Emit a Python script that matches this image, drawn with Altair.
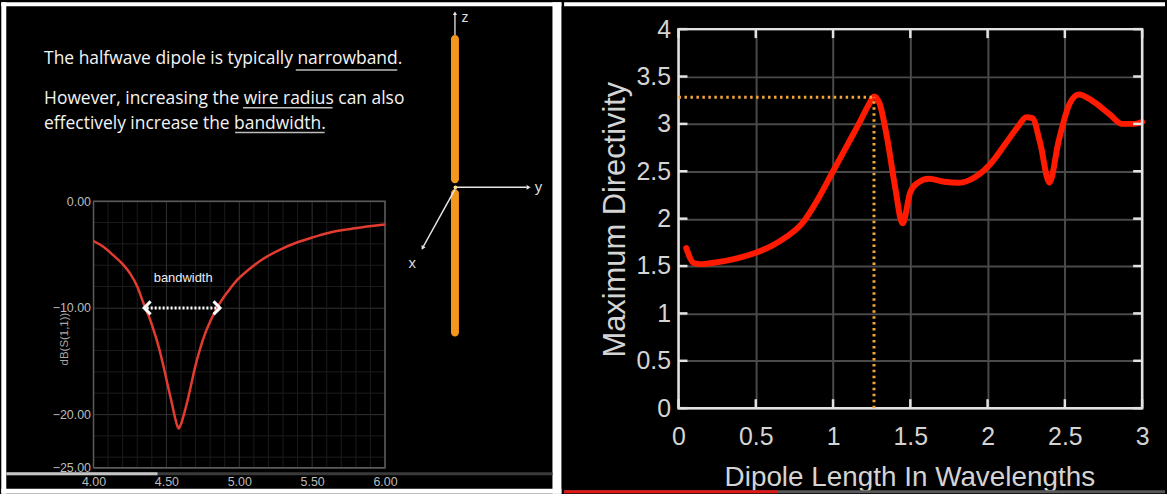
import altair as alt
import pandas as pd

# ---------------- data ----------------
s11_freq = [4.00, 4.07, 4.14, 4.20, 4.254, 4.30, 4.345, 4.38, 4.413, 4.45, 4.481, 4.51, 4.538,
            4.565, 4.584, 4.60, 4.62, 4.64, 4.67, 4.697, 4.73, 4.765, 4.81, 4.856, 4.92, 4.98,
            5.07, 5.16, 5.27, 5.39, 5.50, 5.617, 5.73, 5.845, 6.00]
s11_db = [-3.73, -4.3, -5.13, -5.9, -6.84, -8.0, -9.64, -10.8, -12.1, -13.8, -15.55, -17.3, -18.97,
          -20.6, -21.3, -20.9, -20.0, -18.97, -17.2, -15.55, -13.9, -12.44, -11.0, -9.8, -8.5, -7.46,
          -6.35, -5.44, -4.6, -3.89, -3.4, -2.95, -2.66, -2.43, -2.18]
bw_lo, bw_hi, bw_level = 4.365, 4.85, -10.0
bw_label_f, bw_label_db = 4.615, -7.2

s11_x_ticks = [4.0, 4.5, 5.0, 5.5, 6.0]
s11_y_ticks = [0, -10, -20, -25]
s11_x_minor = [4.1, 4.2, 4.3, 4.4, 4.6, 4.7, 4.8, 4.9, 5.1, 5.2, 5.3, 5.4, 5.6, 5.7, 5.8, 5.9]
s11_y_minor = [-2, -4, -6, -8, -12, -14, -16, -18, -22, -24]

dir_len = [0.05, 0.10, 0.15, 0.25, 0.35, 0.50, 0.60, 0.70, 0.80, 0.90, 1.00, 1.10, 1.17, 1.23, 1.265,
           1.30, 1.35, 1.40, 1.45, 1.50, 1.55, 1.62, 1.72, 1.82, 1.92, 2.02, 2.12, 2.20, 2.25, 2.29,
           2.34, 2.40, 2.46, 2.53, 2.59, 2.68, 2.79, 2.87, 2.95, 3.00]
dir_val = [1.69, 1.53, 1.52, 1.54, 1.57, 1.64, 1.71, 1.81, 1.95, 2.20, 2.50, 2.80, 3.01, 3.20, 3.29,
           3.22, 2.85, 2.35, 1.95, 2.28, 2.38, 2.42, 2.39, 2.38, 2.44, 2.58, 2.80, 2.98, 3.07, 3.06,
           2.80, 2.38, 2.82, 3.21, 3.31, 3.24, 3.10, 3.00, 3.00, 3.02]
peak_len, peak_val = 1.265, 3.28

dir_x_ticks = [0, 0.5, 1, 1.5, 2, 2.5, 3]
dir_y_ticks = [0, 0.5, 1, 1.5, 2, 2.5, 3, 3.5, 4]

slide_lines = ["The halfwave dipole is typically narrowband.",
               "However, increasing the wire radius can also",
               "effectively increase the bandwidth."]

# ---------------- layout helpers (page pixels -> view-relative pixels) ----------------
# Both views start at page y=27 so that the concat row lines them up; the S11 data
# occupies only the lower part of the left view (page y 200..468).
LX, LY, LW, LH = 92.7, 27.0, 293, 441
S11_TOP = 200.0 - LY                         # y-pixel of 0 dB inside the left view
RX, RY, RW, RH = 678.0, 27.0, 466, 381      # directivity plot area
one = pd.DataFrame({"k": [0]})


def d_rect(x1, x2, y1, y2, ox, oy, **kw):
    return alt.Chart(one).mark_rect(**kw).encode(
        x=alt.value(x1 - ox), x2=alt.value(x2 - ox), y=alt.value(y1 - oy), y2=alt.value(y2 - oy))


def d_rule(x1, y1, x2, y2, ox, oy, **kw):
    return alt.Chart(one).mark_rule(**kw).encode(
        x=alt.value(x1 - ox), x2=alt.value(x2 - ox), y=alt.value(y1 - oy), y2=alt.value(y2 - oy))


def d_text(t, x, y, ox, oy, **kw):
    return alt.Chart(one).mark_text(text=t, **kw).encode(x=alt.value(x - ox), y=alt.value(y - oy))


def d_point(x, y, ox, oy, **kw):
    return alt.Chart(one).mark_point(**kw).encode(x=alt.value(x - ox), y=alt.value(y - oy))


# ---------------- left panel ----------------
s11 = pd.DataFrame({"f": s11_freq, "db": s11_db})
xs = alt.Scale(domain=[4, 6], nice=False, zero=False)
ys = alt.Scale(domain=[-25, 0], nice=False, zero=False, range=[LH, S11_TOP])
lab_font = "Liberation Sans"

left_white = [
    d_rect(0, 5, 0, 494, LX, LY, color="white"),
    d_rect(0, 563, 0, 4, LX, LY, color="white"),
    d_rect(554, 563, 0, 494, LX, LY, color="white"),
    d_rect(0, 563, 489, 494, LX, LY, color="white"),
]

minor_x = alt.Chart(pd.DataFrame({"f": s11_x_minor})).mark_rule(color="#1c1c1c", strokeWidth=1).encode(
    x=alt.X("f:Q", scale=xs), y=alt.datum(0), y2=alt.datum(-25))
minor_y = alt.Chart(pd.DataFrame({"db": s11_y_minor})).mark_rule(color="#1c1c1c", strokeWidth=1).encode(
    y=alt.Y("db:Q", scale=ys))
major_x = alt.Chart(pd.DataFrame({"f": s11_x_ticks})).mark_rule(color="#333333", strokeWidth=1).encode(
    x=alt.X("f:Q", scale=xs), y=alt.datum(0), y2=alt.datum(-25))

left_frame = d_rect(0, LW, S11_TOP, LH, 0, 0, fillOpacity=0, stroke="#5c5c5c", strokeWidth=1.5)

s11_line = alt.Chart(s11).mark_line(color="#e23b30", strokeWidth=2.5, interpolate="monotone").encode(
    x=alt.X("f:Q", scale=xs, axis=alt.Axis(
        values=s11_x_ticks, format=".2f", grid=False,
        domain=False, ticks=False, labelColor="#bcbcbc", labelFont=lab_font, labelFontSize=12.5,
        labelPadding=8, labelFlush=False, labelOverlap=False, title=None)),
    y=alt.Y("db:Q", scale=ys, axis=alt.Axis(
        values=s11_y_ticks, format=".2f", grid=True, gridColor="#333333", gridWidth=1,
        domain=False, ticks=False, labelColor="#bcbcbc", labelFont=lab_font, labelFontSize=12.5,
        labelPadding=3, labelOverlap=False, title="dB(S(1,1))", titleColor="#a8a8a8",
        titleFont=lab_font, titleFontSize=11.5, titleFontWeight="normal", titleX=-29,
        titleY=338 - LY, titleAngle=270, titleAlign="center", titleBaseline="middle")),
)

bw_df = pd.DataFrame({"f": [bw_lo], "f2": [bw_hi], "db": [bw_level]})
bw_rule = alt.Chart(bw_df).mark_rule(color="white", strokeWidth=3, strokeDash=[2, 2]).encode(
    x="f:Q", x2="f2:Q", y="db:Q")
bw_left = alt.Chart(pd.DataFrame({"f": [bw_lo], "db": [bw_level]})).mark_point(
    shape="M 0.6 -1 L -0.4 0 L 0.6 1", filled=False, color="white", strokeWidth=3, size=170, opacity=1
).encode(x="f:Q", y="db:Q")
bw_right = alt.Chart(pd.DataFrame({"f": [bw_hi], "db": [bw_level]})).mark_point(
    shape="M -0.6 -1 L 0.4 0 L -0.6 1", filled=False, color="white", strokeWidth=3, size=170, opacity=1
).encode(x="f:Q", y="db:Q")
bw_text = alt.Chart(pd.DataFrame({"f": [bw_label_f], "db": [bw_label_db], "t": ["bandwidth"]})).mark_text(
    color="#eeeeee", font=lab_font, fontSize=13).encode(x="f:Q", y="db:Q", text="t:N")

slide_font = dict(font="Open Sans", fontSize=17.5, fontWeight=500, color="#f4f4f4", align="left",
                  baseline="middle")
slide = [
    d_text(slide_lines[0], 43, 57, LX, LY, **slide_font),
    d_text(slide_lines[1], 43, 97, LX, LY, **slide_font),
    d_text(slide_lines[2], 43, 122, LX, LY, **slide_font),
    d_rule(296, 68, 398, 68, LX, LY, color="#bdbdbd", strokeWidth=1.5),
    d_rule(243, 106, 333, 106, LX, LY, color="#bdbdbd", strokeWidth=1.5),
    d_rule(235, 131, 325, 131, LX, LY, color="#bdbdbd", strokeWidth=1.5),
]

dipole = [
    d_rect(452, 460, 33, 182, LX, LY, color="#f5961e", cornerRadius=4),
    d_rect(452, 460, 188, 336, LX, LY, color="#f5961e", cornerRadius=4),
    d_rule(456, 33, 456, 12, LX, LY, color="#e8e8e8", strokeWidth=1.3),
    d_point(456, 11, LX, LY, shape="triangle-up", filled=True, color="#e8e8e8", size=18, opacity=1),
    d_text("z", 466, 16, LX, LY, font=lab_font, fontSize=14, color="#dddddd"),
    d_rule(456, 186, 528, 186, LX, LY, color="#e8e8e8", strokeWidth=1.5),
    d_point(530, 186, LX, LY, shape="triangle-right", filled=True, color="#e8e8e8", size=22, opacity=1),
    d_text("y", 540, 186, LX, LY, font=lab_font, fontSize=15, color="#dddddd"),
    d_rule(456, 188, 424.5, 245, LX, LY, color="#e8e8e8", strokeWidth=1.5),
    d_point(423.5, 247, LX, LY, shape="triangle-right", angle=119, filled=True, color="#e8e8e8",
            size=22, opacity=1),
    d_text("x", 413, 262, LX, LY, font=lab_font, fontSize=15, color="#dddddd"),
    d_point(456.5, 186, LX, LY, shape="circle", filled=True, color="#fde08a", size=14, opacity=1),
]

left_bar = [
    d_rule(5, 474, 554, 474, LX, LY, color="#3a3a3a", strokeWidth=3),
    d_rule(5, 474, 157, 474, LX, LY, color="#c4c4c4", strokeWidth=3),
]

left = alt.layer(
    *left_white, minor_x, minor_y, major_x, left_frame, s11_line, bw_rule, bw_left, bw_right, bw_text,
    *slide, *dipole, *left_bar
).properties(width=LW, height=LH)

# ---------------- right panel ----------------
dd = pd.DataFrame({"L": dir_len, "D": dir_val})
rxs = alt.Scale(domain=[0, 3], nice=False, zero=False)
rys = alt.Scale(domain=[0, 4], nice=False, zero=False)
txt = "#d4d4d4"

right_white = [d_rect(563, 1167, 0, 4, RX, RY, color="white")]
right_frame = d_rect(0, RW, 0, RH, 0, 0, fillOpacity=0, stroke="#e2e2e2", strokeWidth=2.5)

tick_kw = dict(color="#e2e2e2", thickness=2.5, size=9, opacity=1)
tx = pd.DataFrame({"L": dir_x_ticks})
ty = pd.DataFrame({"D": dir_y_ticks})
ticks = [
    alt.Chart(tx).mark_tick(orient="vertical", **tick_kw).encode(x=alt.X("L:Q", scale=rxs), y=alt.value(RH - 4.5)),
    alt.Chart(tx).mark_tick(orient="vertical", **tick_kw).encode(x=alt.X("L:Q", scale=rxs), y=alt.value(4.5)),
    alt.Chart(ty).mark_tick(orient="horizontal", **tick_kw).encode(y=alt.Y("D:Q", scale=rys), x=alt.value(4.5)),
    alt.Chart(ty).mark_tick(orient="horizontal", **tick_kw).encode(y=alt.Y("D:Q", scale=rys), x=alt.value(RW - 4.5)),
]

peak_df = pd.DataFrame({"L0": [0], "L": [peak_len], "D0": [0], "D": [peak_val]})
dot_kw = dict(color="#f0a43a", strokeWidth=3, strokeDash=[2.5, 3.5])
peak_h = alt.Chart(peak_df).mark_rule(**dot_kw).encode(x="L0:Q", x2="L:Q", y="D:Q")
peak_v = alt.Chart(peak_df).mark_rule(**dot_kw).encode(x="L:Q", y="D0:Q", y2="D:Q")

dir_line = alt.Chart(dd).mark_line(color="#ff1a00", strokeWidth=6, interpolate="monotone",
                                   strokeCap="round", strokeJoin="round").encode(
    x=alt.X("L:Q", scale=rxs, axis=alt.Axis(
        values=dir_x_ticks, format="~g", grid=True, gridColor="#4a4a4a", gridWidth=2,
        domain=False, ticks=False, labelColor=txt, labelFont=lab_font, labelFontSize=25,
        labelPadding=17, labelFlush=False, labelOverlap=False,
        title="Dipole Length In Wavelengths", titleColor=txt, titleFont=lab_font, titleFontSize=28,
        titleFontWeight="normal", titleX=232, titleY=56, titleAlign="center", titleBaseline="top")),
    y=alt.Y("D:Q", scale=rys, axis=alt.Axis(
        values=dir_y_ticks, format="~g", grid=True, gridColor="#4a4a4a", gridWidth=2,
        domain=False, ticks=False, labelColor=txt, labelFont=lab_font, labelFontSize=25,
        labelPadding=8, labelFlush=False, labelOverlap=False,
        title="Maximum Directivity", titleColor=txt, titleFont=lab_font, titleFontSize=31,
        titleFontWeight="normal", titleX=-63, titleY=191, titleAngle=270, titleAlign="center",
        titleBaseline="middle")),
)

right_bar = [
    d_rule(563, 492, 1167, 492, RX, RY, color="#5a5a5a", strokeWidth=3),
    d_rule(563, 492, 778, 492, RX, RY, color="#e01818", strokeWidth=3),
]

right = alt.layer(
    dir_line, *right_white, right_frame, *ticks, peak_h, peak_v, *right_bar
).properties(width=RW, height=RH)

chart = alt.concat(left, right, columns=2, spacing=0, bounds="full").properties(
    padding={"left": 0, "top": 0, "right": 0, "bottom": 0}, background="black"
).configure_view(stroke="transparent")

chart.save("out.html", embed_options={"renderer": "svg", "actions": False})
